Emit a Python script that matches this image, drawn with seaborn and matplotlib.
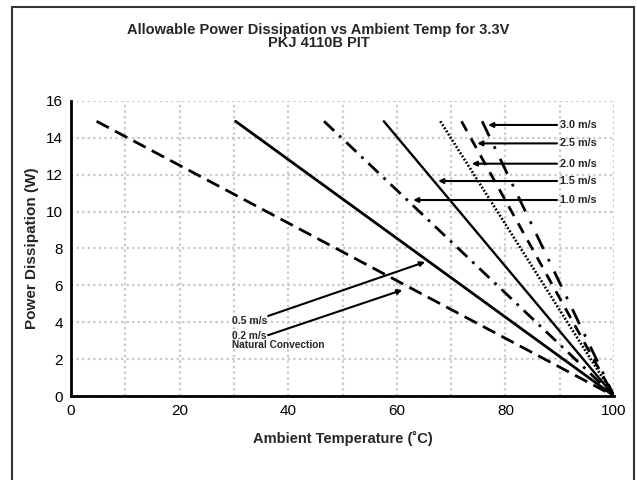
import matplotlib
matplotlib.use("Agg")
import matplotlib.pyplot as plt
import seaborn as sns
import pandas as pd
from matplotlib.patches import Rectangle

# airflow curves: power derating from full power down to 0 W at 100 C
series = ['Natural Convection', '0.5 m/s', '1.0 m/s', '1.5 m/s', '2.0 m/s', '2.5 m/s', '3.0 m/s']
start_temp = [4.7, 30.3, 46.6, 57.6, 68.0, 71.9, 75.7]
end_temp = 100
max_power = 14.9

x_ticks = [0, 20, 40, 60, 80, 100]
y_ticks = [0, 2, 4, 6, 8, 10, 12, 14, 16]

# right-hand callouts: label, label height (W), arrow tip temp
right_labels = ['3.0 m/s', '2.5 m/s', '2.0 m/s', '1.5 m/s', '1.0 m/s']
right_y = [14.7, 13.7, 12.6, 11.66, 10.63]
right_tip = [76.8, 74.8, 73.8, 67.6, 63.0]

styles = {
    'Natural Convection': dict(lw=2.0, ls=(0, (5, 2.5))),
    '0.5 m/s': dict(lw=2.0, ls='-'),
    '1.0 m/s': dict(lw=2.0, ls=(0, (5, 2.5, 1, 2.5))),
    '1.5 m/s': dict(lw=1.7, ls='-'),
    '2.0 m/s': dict(lw=1.9, ls=(0, (0.7, 0.7))),
    '2.5 m/s': dict(lw=2.0, ls=(0, (4, 3))),
    '3.0 m/s': dict(lw=2.0, ls=(0, (6, 4, 1, 4))),
}

sns.set_theme(style='white')
plt.rcParams['font.family'] = ['Liberation Sans', 'DejaVu Sans']

fig = plt.figure(figsize=(6.37, 4.8), dpi=100)
ax = fig.add_axes([0.1115, 0.175, 0.8525, 0.6146])

for name, t0 in zip(series, start_temp):
    df = pd.DataFrame({'temp': [t0, end_temp], 'power': [max_power, 0]})
    st = styles[name]
    sns.lineplot(data=df, x='temp', y='power', ax=ax, color='black',
                 linewidth=st['lw'], linestyle=st['ls'], legend=False)

ax.set_xlim(0, 100)
ax.set_ylim(0, 16)
ax.set_xticks(x_ticks)
ax.set_yticks(y_ticks)
ax.set_xticks(range(0, 101, 10), minor=True)
ax.grid(True, which='both', color='#c8c8c8', linestyle=(0, (1, 1.5)), linewidth=1.6)
ax.set_axisbelow(True)
ax.tick_params(axis='both', which='both', length=0, labelsize=11, colors='black')
ax.tick_params(axis='x', pad=6)
ax.tick_params(axis='y', pad=6)
for s in ['top', 'right']:
    ax.spines[s].set_visible(False)
for s in ['left', 'bottom']:
    ax.spines[s].set_color('black')
    ax.spines[s].set_linewidth(2.0)

ax.set_xlabel('Ambient Temperature (\u02daC)', fontsize=10.5, fontweight='bold', labelpad=9)
ax.set_ylabel('Power Dissipation (W)', fontsize=11, fontweight='bold', labelpad=5)

fig.text(0.5, 0.953, 'Allowable Power Dissipation vs Ambient Temp for 3.3V\nPKJ 4110B PIT',
         ha='center', va='top', fontsize=10.5, fontweight='bold', linespacing=0.95)

arrow = dict(arrowstyle='-|>', color='black', lw=1.5, mutation_scale=7, shrinkA=0, shrinkB=0)
for lab, y, tip in zip(right_labels, right_y, right_tip):
    ax.annotate('', xy=(tip, y), xytext=(89.5, y), arrowprops=arrow)
    ax.text(90.0, y, lab, ha='left', va='center', fontsize=7.8, fontweight='bold')

ax.annotate('', xy=(65.2, 7.27), xytext=(36.3, 4.34), arrowprops=arrow)
ax.text(29.7, 4.07, '0.5 m/s', ha='left', va='center', fontsize=7.5, fontweight='bold')
ax.annotate('', xy=(61.0, 5.75), xytext=(36.3, 3.3), arrowprops=arrow)
ax.text(29.7, 3.5, '0.2 m/s\nNatural Convection', ha='left', va='top', fontsize=7.3,
        fontweight='bold', linespacing=0.8)

fig.patches.append(Rectangle((12 / 637, -0.05), 622 / 637, 1.05 - 7 / 480,
                             transform=fig.transFigure, fill=False,
                             edgecolor='#333333', linewidth=1.5))

fig.savefig('out.png', dpi=100)
